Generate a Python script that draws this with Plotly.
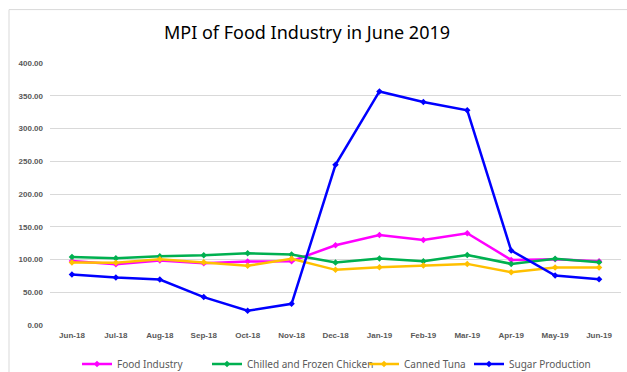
import plotly.graph_objects as go

months = ["Jun-18", "Jul-18", "Aug-18", "Sep-18", "Oct-18", "Nov-18", "Dec-18",
          "Jan-19", "Feb-19", "Mar-19", "Apr-19", "May-19", "Jun-19"]
food_industry = [97.9, 92.8, 98.4, 94.4, 96.9, 97.4, 121.8, 137.5, 129.9, 140.0, 99.4, 100.5, 97.4]
chicken = [104.0, 102.0, 105.0, 106.5, 109.6, 107.6, 95.4, 101.5, 97.4, 107.0, 93.3, 101.0, 95.9]
tuna = [95.4, 94.9, 100.5, 95.9, 90.3, 101.0, 84.2, 88.3, 90.8, 93.3, 80.7, 87.8, 87.8]
sugar = [77.2, 72.6, 69.5, 42.6, 21.8, 32.4, 244.6, 356.6, 340.5, 327.8, 113.7, 75.6, 70.0]
y_ticks = [0, 50, 100, 150, 200, 250, 300, 350, 400]

series = [
    ("Food Industry", food_industry, "#FF00FF", "legend"),
    ("Chilled and Frozen Chicken", chicken, "#00B050", "legend2"),
    ("Canned Tuna", tuna, "#FFC000", "legend3"),
    ("Sugar Production", sugar, "#0000FF", "legend4"),
]

fig = go.Figure()
for name, vals, color, lg in series:
    fig.add_trace(go.Scatter(
        x=months, y=vals, name=name, mode="lines+markers",
        line=dict(color=color, width=2.5),
        marker=dict(color=color, size=5, symbol="diamond"),
        legend=lg, showlegend=True,
    ))

gray = "#595959"
legend_font = dict(family="Noto Sans", size=10, color=gray)
def leg(xpx):
    return dict(x=xpx / 627, xref="container", y=(372 - 364) / 372, yref="container",
                xanchor="left", yanchor="middle", orientation="h",
                font=legend_font, bgcolor="rgba(0,0,0,0)", itemwidth=30)

fig.update_layout(
    width=627, height=372,
    margin=dict(l=50, r=6, t=62.5, b=47, autoexpand=False),
    paper_bgcolor="white", plot_bgcolor="white",
    title=dict(text="MPI of Food Industry in June 2019", x=307 / 627, xanchor="center",
               y=1 - 33 / 372, yanchor="middle",
               font=dict(family="Noto Sans", size=18, color="#000000")),
    xaxis=dict(showgrid=False, showline=False, zeroline=False, ticks="",
               tickfont=dict(family="Liberation Sans", size=8, color=gray, weight="bold"),
               range=[-0.5, 12.5], ticklabelstandoff=4),
    yaxis=dict(range=[0, 400], tickvals=y_ticks, ticktext=[f"{v:.2f}" for v in y_ticks],
               showgrid=True, gridcolor="#D9D9D9", gridwidth=1, zeroline=False, showline=False,
               tickfont=dict(family="Liberation Sans", size=8, color=gray, weight="bold"),
               ticklabelstandoff=6),
    legend=leg(77), legend2=leg(207), legend3=leg(364), legend4=leg(469),
    shapes=[dict(type="rect", xref="paper", yref="paper",
                 x0=(9 - 50) / 571, x1=(640 - 50) / 571,
                 y0=(325 - 400) / 262.5, y1=(325 - 9) / 262.5,
                 line=dict(color="#D9D9D9", width=1), layer="below")],
)

fig.write_html("out.html", config={"displayModeBar": False},
               post_script="document.body.style.margin='0';document.body.style.overflow='hidden';")
